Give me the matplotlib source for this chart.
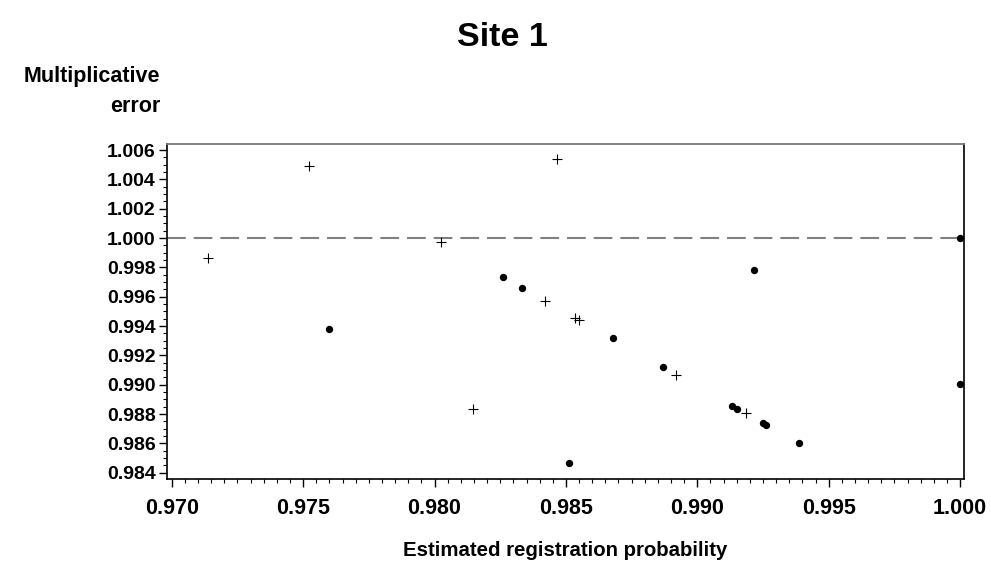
import matplotlib.pyplot as plt
from matplotlib.ticker import MultipleLocator, FormatStrFormatter

# estimated registration probability / multiplicative error
plus_x = [0.97137, 0.97521, 0.98025, 0.98146, 0.98421, 0.98467, 0.98535, 0.98550, 0.98918, 0.99186]
plus_y = [0.99861, 1.00489, 0.99974, 0.98831, 0.99570, 1.00539, 0.99456, 0.99442, 0.99067, 0.98806]

dot_x = [0.97600, 0.98260, 0.98332, 0.98513, 0.98681, 0.98869, 0.99133, 0.99151,
         0.99217, 0.99250, 0.99262, 0.99386, 1.00000, 1.00000]
dot_y = [0.99381, 0.99734, 0.99661, 0.98465, 0.99315, 0.99120, 0.98856, 0.98835,
         0.99779, 0.98740, 0.98726, 0.98603, 1.00000, 0.99002]

x_ticks = [0.970, 0.975, 0.980, 0.985, 0.990, 0.995, 1.000]
y_ticks = [0.984, 0.986, 0.988, 0.990, 0.992, 0.994, 0.996, 0.998, 1.000, 1.002, 1.004, 1.006]
ref_value = 1.0

plt.rcParams['font.family'] = ['Liberation Sans', 'DejaVu Sans']
plt.rcParams['font.weight'] = 'bold'

fig = plt.figure(figsize=(9.91, 5.67), dpi=100)
ax = fig.add_axes([0.1685, 0.155, 0.8038, 0.591])

ax.axhline(ref_value, color='#7f7f7f', lw=1.5, dashes=(9, 3.8), zorder=1)
ax.plot(plus_x, plus_y, ls='none', marker='+', ms=7.5, mew=0.8, color='black', zorder=3)
ax.plot(dot_x, dot_y, ls='none', marker='o', ms=5.3, mew=0, color='black', zorder=3, clip_on=False)

ax.set_xlim(0.96982, 1.00013)
ax.set_ylim(0.98356, 1.00641)
ax.set_xticks(x_ticks)
ax.set_yticks(y_ticks)
ax.xaxis.set_minor_locator(MultipleLocator(0.0005))
ax.yaxis.set_minor_locator(MultipleLocator(0.0005))
ax.xaxis.set_major_formatter(FormatStrFormatter('%.3f'))
ax.yaxis.set_major_formatter(FormatStrFormatter('%.3f'))
ax.tick_params(which='major', length=6, width=1)
ax.tick_params(which='minor', length=3, width=0.8)
ax.tick_params(axis='x', which='major', labelsize=15.5, pad=7.5)
ax.tick_params(axis='y', which='major', labelsize=14, pad=2)

for s in ['left', 'bottom', 'right']:
    ax.spines[s].set_linewidth(1.2)
ax.spines['top'].set_color('#777777')
ax.spines['top'].set_linewidth(1.3)

fig.text(0.5075, 1 - 37 / 567, 'Site 1', ha='center', va='center', fontsize=24.5, fontweight='bold')
fig.text(160 / 991, 1 - 77 / 567, 'Multiplicative', ha='right', va='center', fontsize=15.5, fontweight='bold')
fig.text(160 / 991, 1 - 106 / 567, 'error', ha='right', va='center', fontsize=15.5, fontweight='bold')
fig.text(565 / 991, 1 - 550 / 567, 'Estimated registration probability', ha='center', va='center',
         fontsize=14.7, fontweight='bold')

fig.savefig('out.png', dpi=100)
